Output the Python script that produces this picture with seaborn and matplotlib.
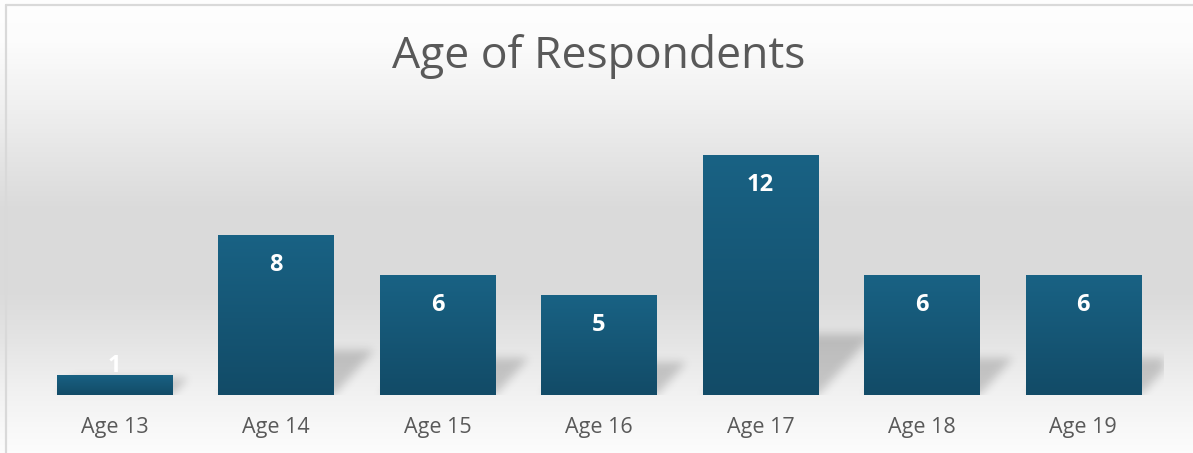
import numpy as np
import matplotlib
matplotlib.use("Agg")
import matplotlib.pyplot as plt
from matplotlib.colors import LinearSegmentedColormap
import seaborn as sns

# Survey counts by age
categories = ["Age 13", "Age 14", "Age 15", "Age 16", "Age 17", "Age 18", "Age 19"]
counts = [1, 8, 6, 5, 12, 6, 6]

TITLE = "Age of Respondents"
TEXT_GREY = "#595959"
BAR_TOP = "#196284"
BAR_BOTTOM = "#124b67"
FONT = ["Open Sans", "DejaVu Sans"]

W, H, DPI = 1193, 453, 100

sns.set_theme(style="white")
plt.rcParams["font.family"] = FONT

fig = plt.figure(figsize=(W / DPI, H / DPI), dpi=DPI)

# ---- chart-area background: vertical grey gradient and frame ----
bg = fig.add_axes([0, 0, 1, 1], zorder=-10)
rows = np.arange(H)
stop_y = [0, 40, 100, 160, 210, 290, 340, 390, 430, H]
stop_v = [0.995, 0.99, 0.945, 0.895, 0.855, 0.855, 0.895, 0.945, 0.975, 0.99]
shade = np.interp(rows, stop_y, stop_v)
bg_img = np.repeat(shade[:, None], 4, axis=1)
bg.imshow(np.dstack([bg_img] * 3), extent=[0, W, H, 0], aspect="auto",
          interpolation="bilinear")
bg.plot([5.5, 5.5], [H + 5, 4.5], color="#d9d9d9", lw=1.6)
bg.plot([5.5, W + 5], [4.5, 4.5], color="#d9d9d9", lw=1.6)
bg.set_xlim(0, W)
bg.set_ylim(H, 0)
bg.axis("off")

# ---- plot area ----
ax = fig.add_axes([34 / W, 58 / H, 1130 / W, 280 / H], zorder=1)
ax.patch.set_alpha(0)

sns.barplot(x=categories, y=counts, ax=ax, width=0.715, color=BAR_TOP,
            saturation=1, zorder=3)

ymax = 14
ax.set_xlim(-0.5, len(categories) - 0.5)
ax.set_ylim(0, ymax)

# gradient fill for each bar (lighter at the top, darker at the base)
bar_cmap = LinearSegmentedColormap.from_list("bar", [BAR_BOTTOM, BAR_TOP])
grad = np.linspace(0, 1, 256)[:, None]
bars = list(ax.patches)
for p in bars:
    x0, w, h = p.get_x(), p.get_width(), p.get_height()
    p.set_facecolor("none")
    p.set_edgecolor("none")
    im = ax.imshow(grad, cmap=bar_cmap, origin="lower", aspect="auto",
                   extent=[x0, x0 + w, 0, h], zorder=3, interpolation="bilinear")
    im.set_clip_path(p)

ax.set_xlim(-0.5, len(categories) - 0.5)
ax.set_ylim(0, ymax)

# soft perspective shadow cast behind each bar
bb = ax.get_window_extent()
nx, ny = int(round(bb.width)), int(round(bb.height))
px_x = nx / (len(categories))
px_y = ny / ymax
yy, xx = np.mgrid[0:ny, 0:nx].astype(float)
mask = np.zeros((ny, nx))
for p in bars:
    left = (p.get_x() + 0.5) * px_x
    right = left + p.get_width() * px_x
    hp = p.get_height() * px_y
    sh = 0.2 * hp + 12
    k = 0.9
    inside = (yy <= sh) & (xx >= left + yy * k) & (xx <= right + yy * k)
    mask[inside] = 1.0


def blur(a, sigma):
    r = int(3 * sigma)
    t = np.arange(-r, r + 1)
    kern = np.exp(-t ** 2 / (2 * sigma ** 2))
    kern /= kern.sum()
    a = np.apply_along_axis(lambda v: np.convolve(v, kern, mode="same"), 1, a)
    a = np.apply_along_axis(lambda v: np.convolve(v, kern, mode="same"), 0, a)
    return a


mask = blur(mask, 4.5)
shadow = np.zeros((ny, nx, 4))
shadow[..., 3] = mask * 0.18
ax.imshow(shadow, origin="lower", aspect="auto",
          extent=[-0.5, len(categories) - 0.5, 0, ymax], zorder=2,
          interpolation="bilinear")
ax.set_xlim(-0.5, len(categories) - 0.5)
ax.set_ylim(0, ymax)

# value labels inside the top of each bar
for i, v in enumerate(counts):
    ax.text(i, max(v - 1.5, 1.45), str(v), ha="center", va="center",
            color="white", fontsize=17, fontweight="bold", zorder=5,
            family=FONT)

for s in ax.spines.values():
    s.set_visible(False)
ax.set_yticks([])
ax.set_xlabel("")
ax.set_ylabel("")
ax.tick_params(axis="x", length=0, pad=15.5, labelsize=15.5, labelcolor=TEXT_GREY)
ax.grid(False)

fig.text(599 / W, 1 - 68 / H, TITLE, ha="center", va="baseline",
         fontsize=32, color=TEXT_GREY, family=FONT)

fig.savefig("out.png", dpi=DPI)
